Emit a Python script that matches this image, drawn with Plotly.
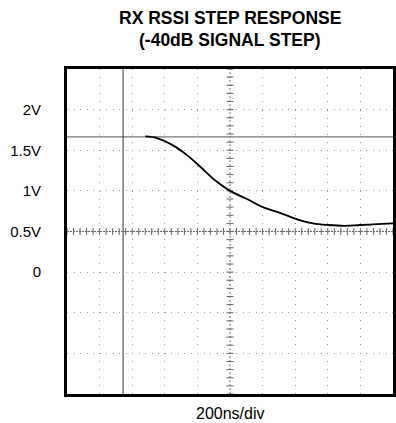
import numpy as np
import plotly.graph_objects as go

# Data (time in ns, voltage in V)
time_ns = [480, 552, 650, 736, 816, 908, 1000, 1104, 1202, 1307, 1411, 1509, 1601, 1706, 1798, 1902, 2000]
rssi_v = [1.67, 1.65, 1.56, 1.44, 1.30, 1.13, 1.00, 0.90, 0.80, 0.73, 0.65, 0.60, 0.58, 0.57, 0.58, 0.59, 0.60]
ref_level_v = 1.665
trigger_ns = 344
y_tickvals = [0, 0.5, 1, 1.5, 2]
y_ticktext = ["0", "0.5V", "1V", "1.5V", "2V"]
title_lines = ["RX RSSI STEP RESPONSE", "(-40dB SIGNAL STEP)"]
x_label = "200ns/div"

X0, X1 = 0, 2000
Y0, Y1 = -1.5, 2.5
XDIV, YDIV = 200, 0.5
CX, CY = 1000, 0.5

font_narrow = "Liberation Sans Narrow, Arial Narrow, Liberation Sans, sans-serif"
font_title = "Liberation Sans, Arial, sans-serif"
GRID = "#9a9a9a"

W, H = 396, 423
ML, MR, MT, MB = 67, 3, 69, 29
pw, ph = W - ML - MR, H - MT - MB


def px_to_paper(px, py):
    return (px - ML) / pw, (H - MB - py) / ph


fig = go.Figure()

# center cross tick marks
xt = np.arange(X0, X1 + 1, XDIV / 5)
yt = np.arange(Y0, Y1 + 1e-9, YDIV / 5)
fig.add_trace(go.Scatter(x=xt, y=[CY] * len(xt), mode="markers",
                         marker=dict(symbol="line-ns", size=5, line=dict(width=1, color="#666")),
                         hoverinfo="skip", showlegend=False))
fig.add_trace(go.Scatter(x=[CX] * len(yt), y=yt, mode="markers",
                         marker=dict(symbol="line-ew", size=5, line=dict(width=1, color="#666")),
                         hoverinfo="skip", showlegend=False))

# reference and trigger lines
fig.add_trace(go.Scatter(x=[X0, X1], y=[ref_level_v, ref_level_v], mode="lines",
                         line=dict(color="#777", width=1.3), hoverinfo="skip", showlegend=False))
fig.add_trace(go.Scatter(x=[trigger_ns, trigger_ns], y=[Y0, Y1], mode="lines",
                         line=dict(color="#333", width=1), hoverinfo="skip", showlegend=False))
fig.add_trace(go.Scatter(x=[X0, X1], y=[CY, CY], mode="lines",
                         line=dict(color="#666", width=1, dash="2px,1px"), hoverinfo="skip", showlegend=False))
fig.add_trace(go.Scatter(x=[CX, CX], y=[Y0, Y1], mode="lines",
                         line=dict(color="#777", width=1, dash="2px,2px"), hoverinfo="skip", showlegend=False))

# signal
fig.add_trace(go.Scatter(x=time_ns, y=rssi_v, mode="lines",
                         line=dict(color="black", width=1.8, shape="spline"), showlegend=False))

# grid-only overlay axis
fig.add_trace(go.Scatter(x=[X0], y=[Y0], yaxis="y2", mode="markers", marker=dict(opacity=0),
                         hoverinfo="skip", showlegend=False))

t1x, t1y = px_to_paper(230, 17.5)
t2x, t2y = px_to_paper(230, 40)
lx, ly = px_to_paper(230, 413)

fig.update_layout(
    width=W, height=H,
    margin=dict(l=ML, r=MR, t=MT, b=MB),
    paper_bgcolor="white", plot_bgcolor="white",
    font=dict(family=font_narrow, color="black"),
    annotations=[
        dict(text="<b>" + title_lines[0] + "</b>", x=t1x, y=t1y, xref="paper", yref="paper",
             xanchor="center", yanchor="middle", showarrow=False,
             font=dict(size=17.5, family=font_title)),
        dict(text="<b>" + title_lines[1] + "</b>", x=t2x, y=t2y, xref="paper", yref="paper",
             xanchor="center", yanchor="middle", showarrow=False,
             font=dict(size=17.5, family=font_title)),
        dict(text=x_label, x=lx, y=ly, xref="paper", yref="paper",
             xanchor="center", yanchor="middle", showarrow=False,
             font=dict(size=16, family=font_narrow)),
    ],
    yaxis2=dict(overlaying="y", range=[Y0, Y1], dtick=YDIV, tick0=Y0, showticklabels=False, ticks="",
                showgrid=True, gridcolor=GRID, gridwidth=1, griddash="1px,5.5px", zeroline=False,
                automargin=False, side="right", showline=False),
)

fig.update_xaxes(range=[X0, X1], tick0=0, dtick=XDIV, showticklabels=False, ticks="",
                 showgrid=True, gridcolor=GRID, gridwidth=1, griddash="1px,7.1px",
                 zeroline=False, showline=True, mirror=True, linecolor="black", linewidth=3,
                 automargin=False)
fig.layout.yaxis.update(range=[Y0, Y1], tickmode="array", tickvals=y_tickvals, ticktext=y_ticktext,
                        ticks="", ticklabelstandoff=20, tickfont=dict(size=15),
                        showgrid=False, zeroline=False, showline=True, mirror=True,
                        linecolor="black", linewidth=3, automargin=False)

fig.write_html("out.html", config={"displayModeBar": False},
               post_script="document.body.style.margin='0';document.body.style.padding='0';")
